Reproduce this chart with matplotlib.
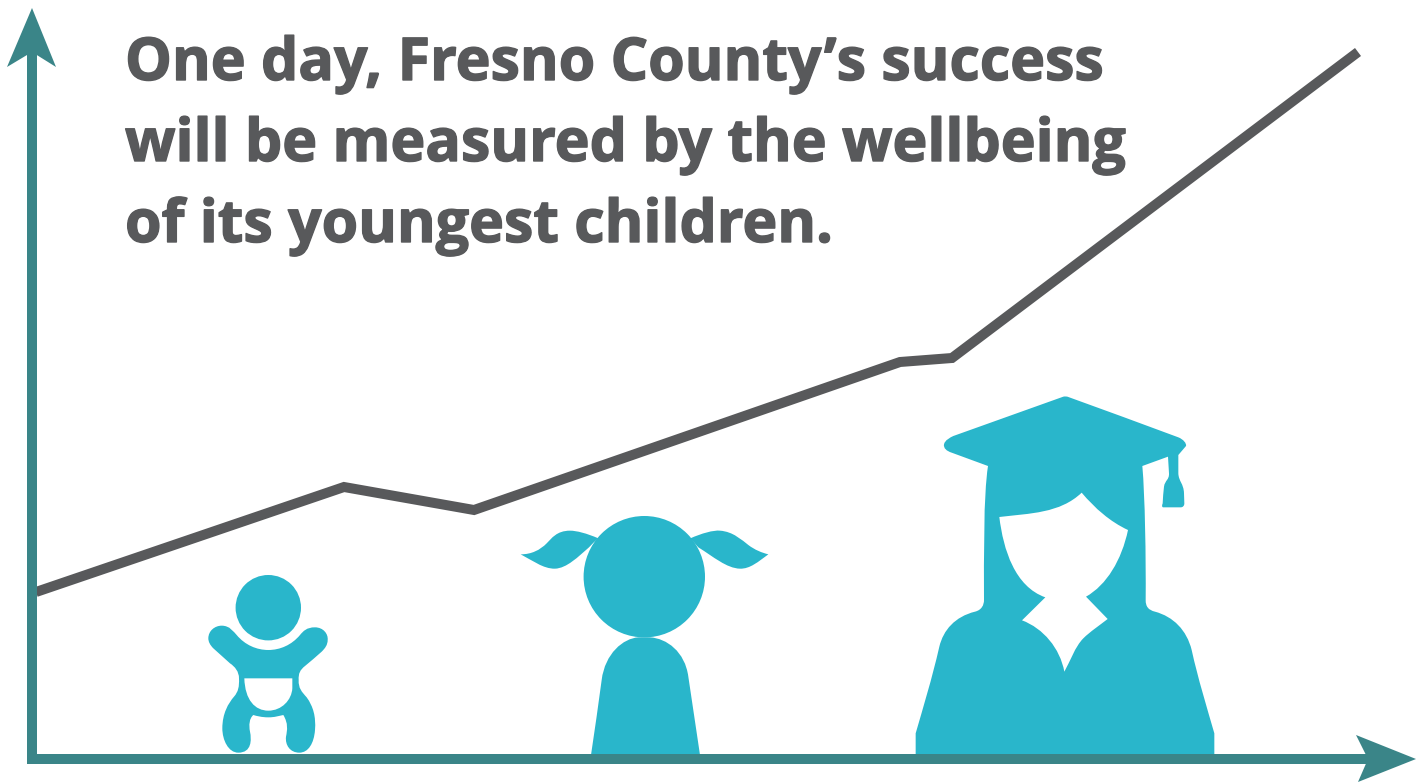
import matplotlib
matplotlib.use("Agg")
import matplotlib.pyplot as plt
import matplotlib.patheffects as pe
from matplotlib.path import Path
from matplotlib.patches import PathPatch, Circle, Polygon
from matplotlib.transforms import Affine2D

# headline
title_lines = ["One day, Fresno County’s success",
               "will be measured by the wellbeing",
               "of its youngest children."]
title_y = [80, 161, 242]

# wellbeing line in pixels
line_x = [36, 344, 474, 900, 952, 1358]
line_y = [592, 487, 510, 362, 358, 52]

TEAL = "#3a8588"
CYAN = "#29b6cb"
GREY = "#58595b"

# icon outlines: a start point then bezier triples, or single points for straight bits
baby_body = [(95, 197),
    (120, 197), (130, 215), (140, 225), (165, 255), (200, 270), (235, 270),
    (270, 270), (305, 255), (330, 225), (340, 213), (350, 202), (375, 202),
    (400, 202), (415, 222), (413, 240), (413, 255), (405, 265), (395, 275),
    (378, 290), (362, 304), (345, 318), (330, 330), (325, 340), (326, 360),
    (325, 385), (335, 395), (350, 412), (370, 440), (378, 470), (375, 510),
    (372, 550), (355, 578), (328, 578), (300, 578), (285, 555), (288, 530),
    (292, 510), (295, 490), (280, 465), (265, 468), (255, 472), (235, 472),
    (215, 472), (200, 468), (190, 465), (178, 475), (176, 495), (180, 515),
    (185, 540), (185, 578), (145, 578), (115, 578), (97, 540), (97, 505),
    (97, 460), (115, 430), (132, 410), (145, 395), (148, 380), (147, 355),
    (147, 335), (135, 320), (120, 310), (103, 295), (87, 280), (70, 265),
    (60, 255), (55, 245), (55, 235), (55, 212), (75, 197), (95, 197)]
baby_diaper = [(163, 355),
    (165, 420), (195, 452), (235, 452), (275, 452), (305, 420), (307, 385),
    (307, 375), (307, 365), (307, 355), (259, 355), (211, 355), (163, 355)]

girl_left = [(265, 85),
    (230, 70), (200, 62), (180, 62), (140, 62), (125, 85), (110, 100),
    (90, 120), (65, 133), (32, 133), (65, 150), (100, 177), (135, 176),
    (170, 175), (205, 140), (237, 112), (245, 103), (255, 94), (265, 85)]
girl_right = [(541, 85),
    (575, 70), (610, 60), (630, 62), (670, 65), (695, 90), (715, 105),
    (735, 120), (755, 128), (775, 133), (745, 155), (720, 177), (690, 176),
    (650, 175), (610, 140), (565, 112), (557, 103), (549, 94), (541, 85)]
girl_body = [(243, 735),
    (254, 660), (265, 585), (275, 510), (285, 430), (340, 385), (385, 382),
    (397, 382), (408, 382), (420, 382), (470, 385), (525, 425), (535, 500),
    (547, 578), (558, 657), (570, 735), (463, 735), (350, 735), (243, 735)]

grad_outer = [(490, 20),
    (495, 19), (500, 19), (505, 21), (615, 61), (725, 101), (835, 142),
    (850, 148), (860, 160), (858, 168), (850, 177), (843, 186), (835, 195),
    (835, 213), (835, 232), (835, 250), (836, 275), (851, 280), (852, 310),
    (852, 320), (853, 330), (853, 340), (853, 348), (848, 352), (842, 352),
    (825, 352), (807, 352), (790, 352), (786, 352), (785, 348), (788, 340),
    (789, 323), (790, 307), (792, 290), (795, 270), (808, 270), (807, 250),
    (806, 233), (805, 217), (804, 200), (778, 209), (753, 219), (727, 228),
    (735, 320), (738, 500), (737, 630), (737, 650), (745, 660), (765, 665),
    (820, 680), (860, 720), (875, 780), (895, 870), (920, 950), (943, 1030),
    (943, 1052), (943, 1073), (943, 1095), (644, 1095), (346, 1095), (47, 1095),
    (47, 1073), (47, 1052), (47, 1030), (70, 950), (95, 870), (118, 770),
    (130, 720), (165, 680), (225, 665), (245, 660), (252, 645), (252, 630),
    (252, 500), (250, 320), (264, 228), (228, 215), (191, 201), (155, 188),
    (140, 183), (130, 175), (132, 163), (135, 150), (150, 143), (160, 138),
    (270, 99), (380, 59), (490, 20)]
grad_face = [(298, 381),
    (310, 480), (345, 590), (436, 622), (413, 645), (389, 668), (366, 691),
    (430, 715), (480, 775), (493, 845), (510, 815), (525, 770), (550, 745),
    (570, 725), (600, 705), (623, 687), (601, 665), (580, 642), (558, 620),
    (620, 585), (665, 510), (684, 420), (630, 395), (585, 355), (545, 308),
    (480, 370), (390, 370), (298, 381)]


def bez_path(*outlines):
    verts, codes = [], []
    for o in outlines:
        verts += o
        codes += [Path.MOVETO] + [Path.CURVE4] * (len(o) - 1)
    return Path(verts, codes)


fig = plt.figure(figsize=(14.26, 7.82), dpi=100)
ax = fig.add_axes([0, 0, 1, 1])
ax.set_xlim(0, 1426)
ax.set_ylim(782, 0)
ax.axis("off")

# zoomed crops were 3x, so the outlines are in 3x units from their crop corner
baby_tf = Affine2D().scale(1 / 3).translate(190, 560) + ax.transData
girl_tf = Affine2D().scale(1 / 3).translate(510, 510) + ax.transData
grad_tf = Affine2D().scale(1 / 3).translate(900, 390) + ax.transData

ax.add_patch(Circle((268.3, 607.7), 32.7, fc=CYAN, ec="none"))
ax.add_patch(PathPatch(bez_path(baby_body, baby_diaper), fc=CYAN, ec="none", transform=baby_tf))

ax.add_patch(Circle((644.3, 576.7), 60.7, fc=CYAN, ec="none"))
for part in (girl_left, girl_right, girl_body):
    ax.add_patch(PathPatch(bez_path(part), fc=CYAN, ec="none", transform=girl_tf))

ax.add_patch(PathPatch(bez_path(grad_outer, grad_face), fc=CYAN, ec="none", transform=grad_tf))

ax.plot(line_x, line_y, color=GREY, lw=7.2, solid_joinstyle="miter", solid_capstyle="butt")

# axes arrows
ax.plot([32, 32], [50, 764], color=TEAL, lw=7.2, solid_capstyle="butt")
ax.plot([27, 1375], [759, 759], color=TEAL, lw=7.2, solid_capstyle="butt")
ax.add_patch(Polygon([(32, 8), (56, 67), (32, 52), (7, 67)], fc=TEAL, ec="none"))
ax.add_patch(Polygon([(1416, 759), (1358, 782), (1368, 759), (1356, 735)], fc=TEAL, ec="none"))

# a thin stroke fattens Open Sans Bold towards the heavier look of the original
for s, y in zip(title_lines, title_y):
    ax.text(125, y, s, fontsize=42.5, fontweight="bold", family="Open Sans",
            color=GREY, va="baseline", ha="left",
            path_effects=[pe.withStroke(linewidth=1.0, foreground=GREY)])

fig.savefig("out.png", dpi=100)
